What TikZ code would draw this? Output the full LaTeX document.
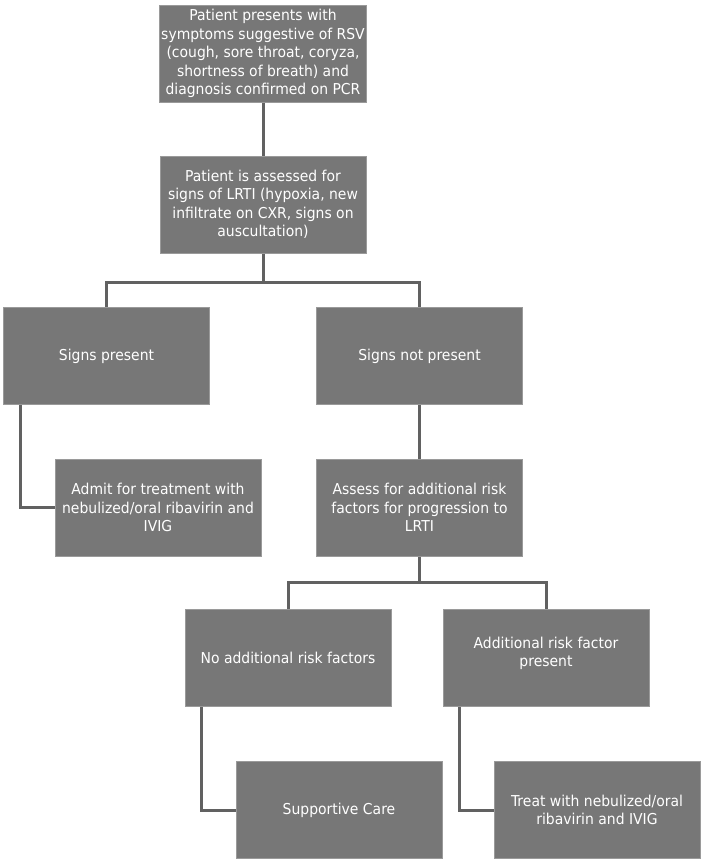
\documentclass[tikz,border=0pt]{standalone}
\usepackage{fontspec}
\setmainfont{DejaVu Sans}[FakeStretch=0.93]
\definecolor{boxfill}{HTML}{777777}
\definecolor{boxedge}{HTML}{9A9A9A}
\definecolor{linkcol}{HTML}{616161}
\begin{document}
\begin{tikzpicture}[x=1pt,y=-1pt,
  flowbox/.style={draw=boxedge,line width=1pt,fill=boxfill,text=white,
    minimum width=206pt,minimum height=97pt,align=center,
    inner sep=2pt,font=\fontsize{15}{18.5}\selectfont},
  link/.style={draw=linkcol,line width=3pt}]
\useasboundingbox (0,0) rectangle (709,863);
\node[flowbox] (n1) at (263,53.5) {Patient presents with\\symptoms suggestive of RSV\\(cough, sore throat, coryza,\\shortness of breath) and\\diagnosis confirmed on PCR};
\node[flowbox] (n2) at (263,204.5) {Patient is assessed for\\signs of LRTI (hypoxia, new\\infiltrate on CXR, signs on\\auscultation)};
\node[flowbox] (n3) at (106.5,356) {Signs present};
\node[flowbox] (n4) at (419.5,356) {Signs not present};
\node[flowbox] (n5) at (158,507.5) {Admit for treatment with\\nebulized/oral ribavirin and\\IVIG};
\node[flowbox] (n6) at (419.5,507.5) {Assess for additional risk\\factors for progression to\\LRTI};
\node[flowbox] (n7) at (288,658) {No additional risk factors};
\node[flowbox] (n8) at (546,658) {Additional risk factor\\present\\[-6pt]\mbox{}};
\node[flowbox] (n9) at (339,810) {Supportive Care};
\node[flowbox] (n10) at (597,810) {Treat with nebulized/oral\\ribavirin and IVIG};
\coordinate (j1) at (263,282);
\coordinate (j2) at (419.5,582);
\draw[link] (n1.south) -- (n2.north);
\draw[link] (n2.south) -- (j1) -| (n3.north);
\draw[link] (j1) -| (n4.north);
\draw[link] (n4.south) -- (n6.north);
\draw[link] (n6.south) -- (j2) -| (n7.north);
\draw[link] (j2) -| (n8.north);
\draw[link] ([xshift=17pt]n3.south west) |- (n5.west);
\draw[link] ([xshift=17pt]n7.south west) |- (n9.west);
\draw[link] ([xshift=17pt]n8.south west) |- (n10.west);
\end{tikzpicture}
\end{document}
